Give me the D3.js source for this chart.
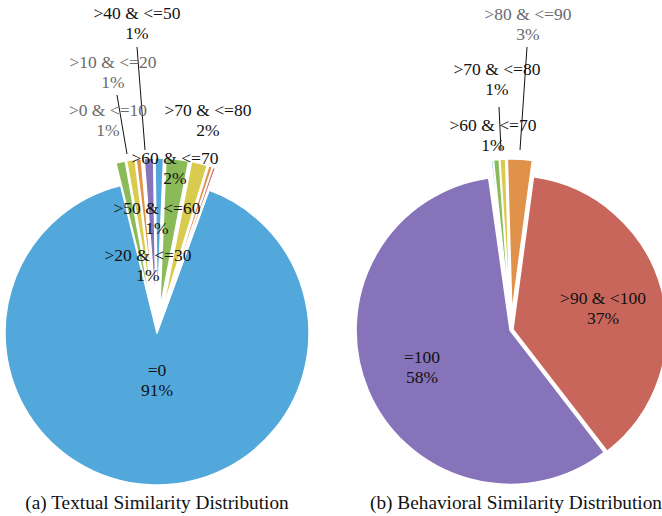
<!DOCTYPE html>
<html><head><meta charset="utf-8">
<script src="https://cdn.jsdelivr.net/npm/d3@7"></script>
<style>html,body{margin:0;padding:0;background:#fff;}svg{display:block;}</style>
</head><body>
<svg id="c" width="662" height="516"></svg>
<script>
// ---- data ----
const categories = ["=0", ">0 & <=10", ">10 & <=20", ">20 & <=30", ">30 & <=40", ">40 & <=50",
                    ">50 & <=60", ">60 & <=70", ">70 & <=80", ">80 & <=90", ">90 & <100", "=100"];
const textualValues    = [90.6, 1.0, 0.9, 0.55, 0.15, 1.0, 0.9, 2.4, 1.7, 0.4, 0.3, 0.1];
const behavioralValues = [0.05, 0.05, 0.05, 0.05, 0.05, 0.1, 0.2, 0.6, 0.6, 2.6, 37.4, 58.25];
const captions = ["(a) Textual Similarity Distribution", "(b) Behavioral Similarity Distribution"];

// ---- style / layout ----
const palette = ["#52A7DB", "#8BBB59", "#D8CB4E", "#E0924A", "#C9665B", "#8773B9"];
const svg = d3.select("#c");
const FONT = "Liberation Serif, Times New Roman, serif";

const pies = [
  { values: textualValues, cx: 157, cy: 333, r: 152, start: 20,
    explode: [0, 23, 23, 23, 23, 23, 23, 23, 23, 23, 23, 23],
    labels: [
      {i: 0, x: 157, y: 370, c: "#111"},
      {i: 1, x: 108, y: 110, c: "#6b6b6b"},
      {i: 2, x: 113, y: 62,  c: "#6b6b6b"},
      {i: 3, x: 148, y: 255, c: "#111"},
      {i: 5, x: 137, y: 13,  c: "#111"},
      {i: 6, x: 157, y: 208, c: "#111"},
      {i: 7, x: 175, y: 158, c: "#111"},
      {i: 8, x: 208, y: 110, c: "#111"}
    ],
    leaders: [[137, 47, 145, 150], [117, 95, 127, 154]],
    capX: 157 },
  { values: behavioralValues, cx: 511, cy: 330, r: 154, start: -8,
    explode: [17, 17, 17, 17, 17, 17, 17, 17, 17, 17, 2, 1],
    labels: [
      {i: 7,  x: 493, y: 125, c: "#111"},
      {i: 8,  x: 497, y: 69,  c: "#111"},
      {i: 9,  x: 528, y: 14,  c: "#6b6b6b"},
      {i: 10, x: 603, y: 298, c: "#111"},
      {i: 11, x: 422, y: 357, c: "#111"}
    ],
    leaders: [[527, 47, 520, 150], [499, 107, 501, 150]],
    capX: 516 }
];

pies.forEach(p => {
  const total = d3.sum(p.values);
  const s = p.start * Math.PI / 180;
  const pie = d3.pie().sort(null).value(d => d)
    .startAngle(s).endAngle(s + 2 * Math.PI);
  const arcs = pie(p.values);
  const arc = d3.arc().innerRadius(0).outerRadius(p.r);
  const g = svg.append("g").attr("transform", `translate(${p.cx},${p.cy})`);
  g.selectAll("path").data(arcs).join("path")
    .attr("d", arc)
    .attr("transform", (d, i) => {
      const m = (d.startAngle + d.endAngle) / 2, e = p.explode[i];
      return `translate(${e * Math.sin(m)},${-e * Math.cos(m)})`;
    })
    .attr("fill", (d, i) => palette[i % palette.length])
    .attr("stroke", "#fff").attr("stroke-width", 1.5).attr("stroke-linejoin", "round");

  // leader lines
  svg.selectAll(null).data(p.leaders).join("line")
    .attr("x1", d => d[0]).attr("y1", d => d[1]).attr("x2", d => d[2]).attr("y2", d => d[3])
    .attr("stroke", "#111").attr("stroke-width", 1);

  // labels
  p.labels.forEach(l => {
    const pct = Math.round(p.values[l.i] / total * 100) + "%";
    const t = svg.append("text").attr("text-anchor", "middle")
      .style("font-family", FONT).style("font-size", "17.5px").attr("fill", l.c);
    t.append("tspan").attr("x", l.x).attr("y", l.y + 6).text(categories[l.i]);
    t.append("tspan").attr("x", l.x).attr("y", l.y + 26).text(pct);
  });
});

// captions
svg.selectAll(null).data(captions).join("text")
  .attr("x", (d, i) => pies[i].capX).attr("y", 509)
  .attr("text-anchor", "middle").style("font-family", FONT).style("font-size", "19.3px")
  .attr("fill", "#111").text(d => d);
</script>
</body></html>
